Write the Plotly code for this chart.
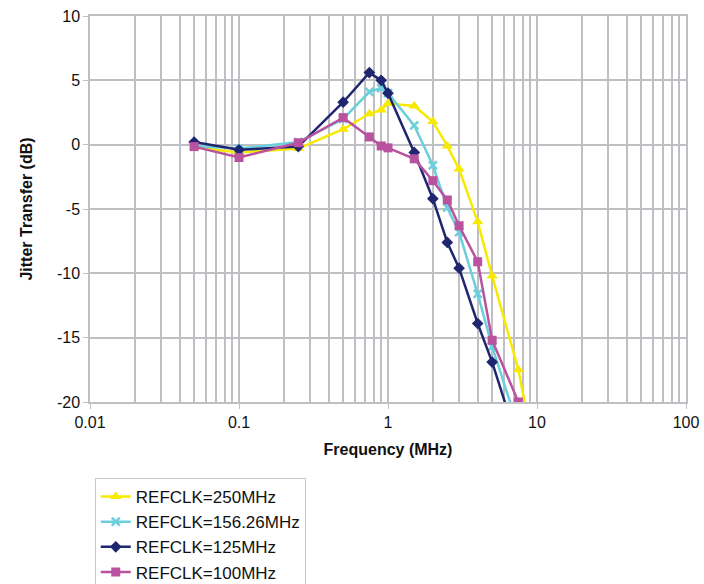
import plotly.graph_objects as go

freq_250 = [0.05, 0.1, 0.25, 0.5, 0.75, 0.9, 1.0, 1.5, 2.0, 2.5, 3.0, 4.0, 5.0, 7.5, 10.0]
jt_250 = [-0.2, -0.6, -0.3, 1.2, 2.4, 2.7, 3.2, 3.0, 1.8, -0.1, -1.9, -6.0, -10.2, -17.5, -25.0]

freq_156 = [0.05, 0.1, 0.25, 0.5, 0.75, 0.9, 1.0, 1.5, 2.0, 2.5, 3.0, 4.0, 5.0, 7.5]
jt_156 = [-0.1, -0.3, 0.2, 2.0, 4.1, 4.4, 4.0, 1.5, -1.6, -4.9, -6.8, -11.6, -15.7, -22.0]

freq_125 = [0.05, 0.1, 0.25, 0.5, 0.75, 0.9, 1.0, 1.5, 2.0, 2.5, 3.0, 4.0, 5.0, 7.5]
jt_125 = [0.2, -0.4, -0.15, 3.3, 5.6, 5.0, 4.0, -0.6, -4.2, -7.6, -9.6, -13.9, -16.9, -23.3]

freq_100 = [0.05, 0.1, 0.25, 0.5, 0.75, 0.9, 1.0, 1.5, 2.0, 2.5, 3.0, 4.0, 5.0, 7.5]
jt_100 = [-0.15, -1.0, 0.15, 2.1, 0.6, -0.1, -0.25, -1.1, -2.8, -4.3, -6.3, -9.1, -15.2, -20.0]

x_ticks = [0.01, 0.1, 1, 10, 100]
x_tick_text = ["0.01", "0.1", "1", "10", "100"]
y_ticks = [-20, -15, -10, -5, 0, 5, 10]
y_tick_text = ["-20", "-15", "-10", "-5", "0", "5", "10"]
minor_vals = [m * 10 ** e for e in range(-2, 2) for m in range(2, 10)]

series = [
    ("REFCLK=250MHz", freq_250, jt_250, "#f7ea00", "triangle-up", 10),
    ("REFCLK=156.26MHz", freq_156, jt_156, "#6ccfdc", "x-thin-open", 8),
    ("REFCLK=125MHz", freq_125, jt_125, "#1f2670", "diamond", 9),
    ("REFCLK=100MHz", freq_100, jt_100, "#b9529f", "square", 9),
]

fig = go.Figure()
for name, xs, ys, color, symbol, size in series:
    marker = dict(symbol=symbol, size=size, color=color)
    if symbol == "x-thin-open":
        marker["line"] = dict(color=color, width=2.5)
    fig.add_trace(go.Scatter(
        x=xs, y=ys, name=name, mode="lines+markers",
        line=dict(color=color, width=2.5), marker=marker,
    ))

grid = "#c0c0c4"
fig.update_layout(
    width=704, height=584,
    margin=dict(l=90, r=18, t=16, b=182, autoexpand=False),
    paper_bgcolor="white", plot_bgcolor="white",
    font=dict(family="Liberation Sans, Arial, sans-serif", size=16, color="#111"),
    showlegend=True,
    legend=dict(
        x=0.008, y=-0.197, xanchor="left", yanchor="top",
        bordercolor="#c8c8c8", borderwidth=1,
        font=dict(size=17), tracegroupgap=0, itemwidth=30,
    ),
)
fig.update_xaxes(
    type="log", range=[-2, 2],
    tickvals=x_ticks, ticktext=x_tick_text,
    showgrid=True, gridcolor=grid, gridwidth=1.5,
    minor=dict(tickvals=minor_vals, showgrid=True, gridcolor=grid, gridwidth=1.5),
    showline=True, linecolor=grid, linewidth=1.5, mirror=True,
    ticks="outside", ticklen=5, tickcolor=grid,
    title=dict(text="<b>Frequency (MHz)</b>", font=dict(size=16), standoff=14),
    zeroline=False, automargin=False,
)
fig.update_yaxes(
    range=[-20, 10], tickvals=y_ticks, ticktext=y_tick_text,
    showgrid=True, gridcolor=grid, gridwidth=1.5,
    showline=True, linecolor=grid, linewidth=1.5, mirror=True,
    ticks="outside", ticklen=5, tickcolor=grid,
    title=dict(text="<b>Jitter Transfer (dB)</b>", font=dict(size=16), standoff=20),
    zeroline=False, automargin=False,
)

fig.write_html("out.html", config={"displayModeBar": False},
               post_script="document.body.style.margin='0';")
